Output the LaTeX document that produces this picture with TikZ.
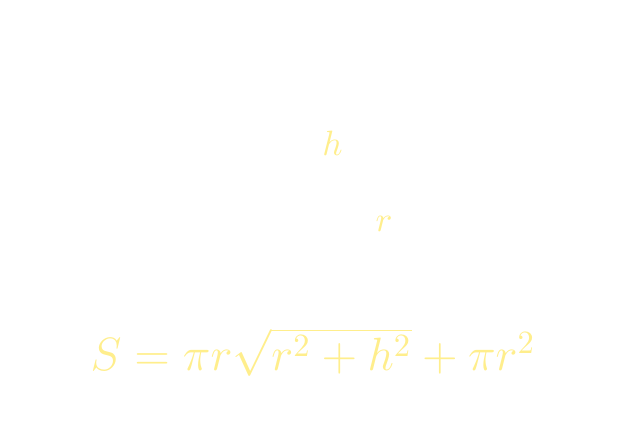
\documentclass[tikz,border=0pt]{standalone}
\usetikzlibrary{positioning}
\definecolor{coneyellow}{RGB}{255,238,140}

\begin{document}
\begin{tikzpicture}[x=0.01cm,y=-0.01cm,
    lbl/.style={text=coneyellow,inner sep=0pt}]

  \useasboundingbox (0,0) rectangle (626,442);

  \draw (332.5,143.5) node (hlabel) [lbl] {$h$};
  \draw (384,224) node (rlabel) [lbl] {$r$};

  \draw (313,352) node (area) [lbl,font=\Large,scale=0.923,transform shape] {$S=\pi r\sqrt{r^2+h^2}+\pi r^2$};

\end{tikzpicture}
\end{document}
